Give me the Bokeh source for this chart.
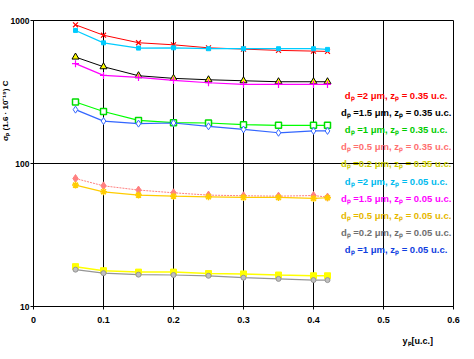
from bokeh.plotting import figure
from bokeh.models import Label, FixedTicker, Title
from bokeh.embed import file_html
from bokeh.resources import INLINE

# ---- data ----
y_p = [0.06, 0.1, 0.15, 0.2, 0.25, 0.3, 0.35, 0.4, 0.42]

s_2_035 = [933, 789, 699, 676, 644, 631, 618, 611, 608]
s_15_035 = [555, 475, 411, 394, 385, 379, 373, 373, 373]
s_1_035 = [269, 231, 200, 193, 192, 187, 185, 185, 185]
s_05_035 = [78.5, 69.8, 65.2, 62.4, 60.1, 59.5, 59.1, 59.7, 58.2]
s_02_035 = [19.0, 17.8, 17.4, 17.4, 17.0, 16.9, 16.6, 16.4, 16.4]
s_2_005 = [852, 698, 641, 644, 635, 635, 635, 635, 628]
s_15_005 = [499, 413, 400, 381, 367, 357, 357, 357, 357]
s_05_005 = [70.6, 63.4, 60.1, 59.1, 58.5, 57.9, 57.9, 57.0, 57.6]
s_02_005 = [18.1, 17.1, 16.7, 16.6, 16.4, 15.9, 15.6, 15.3, 15.3]
s_1_005 = [238, 198, 190, 192, 182, 173, 164, 169, 169]

legend_labels = [
    "dₚ =2 μm, zₚ = 0.35 u.c.",
    "dₚ =1.5 μm, zₚ = 0.35 u.c.",
    "dₚ =1 μm, zₚ = 0.35 u.c.",
    "dₚ =0.5 μm, zₚ = 0.35 u.c.",
    "dₚ =0.2 μm, zₚ = 0.35 u.c.",
    "dₚ =2 μm, zₚ = 0.05 u.c.",
    "dₚ =1.5 μm, zₚ = 0.05 u.c.",
    "dₚ =0.5 μm, zₚ = 0.05 u.c.",
    "dₚ =0.2 μm, zₚ = 0.05 u.c.",
    "dₚ =1 μm, zₚ = 0.05 u.c.",
]
legend_colors = ["#FF0000", "#000000", "#00CC00", "#FF7070", "#CCCC00",
                 "#00BBEE", "#FF00FF", "#E6B800", "#707070", "#1040E0"]

x_ticks = [0, 0.1, 0.2, 0.3, 0.4, 0.5, 0.6]
y_ticks = [10, 100, 1000]
x_title = "yₚ[u.c.]"
y_title = "σₚ (1.6 · 10⁻¹⁹) C"

FONT = "Liberation Sans"

p = figure(frame_width=420, frame_height=286, y_axis_type="log",
           x_range=(0, 0.6), y_range=(10, 1000),
           output_backend="svg", toolbar_location=None,
           min_border_left=25, min_border_right=13,
           min_border_top=20, min_border_bottom=45)
p.outline_line_color = "black"
p.background_fill_color = "white"
p.border_fill_color = "white"

p.xaxis.ticker = FixedTicker(ticks=x_ticks)
p.yaxis.ticker = FixedTicker(ticks=y_ticks)
p.xaxis.minor_tick_line_color = None
p.yaxis.minor_tick_line_color = None
for ax in (p.xaxis, p.yaxis):
    ax.axis_line_color = "black"
    ax.major_tick_line_color = "black"
    ax.major_tick_in = 0
    ax.major_tick_out = 3
    ax.major_label_text_font = FONT
    ax.major_label_text_font_style = "bold"
    ax.major_label_text_font_size = "9px"
    ax.major_label_text_color = "black"
p.yaxis.major_label_text_font_size = "8.5px"
p.yaxis.major_label_standoff = 1
p.xaxis.major_label_standoff = 7
p.yaxis.major_label_overrides = {10: "10", 100: "100", 1000: "1000"}

p.xgrid.grid_line_color = "black"
p.ygrid.grid_line_color = "black"
p.xgrid.grid_line_alpha = 1
p.ygrid.grid_line_alpha = 1
p.xgrid.ticker = FixedTicker(ticks=x_ticks)
p.ygrid.ticker = FixedTicker(ticks=y_ticks)

# series
p.line(y_p, s_2_035, color="#FF0000", line_width=1)
p.scatter(y_p, s_2_035, marker="x", size=7, line_color="#FF0000", line_width=1.2)

p.line(y_p, s_2_005, color="#00CCFF", line_width=1.2)
p.scatter(y_p, s_2_005, marker="square", size=4, fill_color="#00CCFF", line_color="#00CCFF")

p.line(y_p, s_15_035, color="#000000", line_width=1)
p.scatter(y_p, s_15_035, marker="triangle", size=7, fill_color="#FFFF00", line_color="#000000", line_width=1)

p.line(y_p, s_15_005, color="#FF00FF", line_width=1.2)
p.scatter(y_p, s_15_005, marker="cross", size=7, line_color="#FF00FF", line_width=1.2)

p.line(y_p, s_1_035, color="#00FF00", line_width=1.2)
p.scatter(y_p, s_1_035, marker="square", size=6, fill_color="white", line_color="#00DD00", line_width=1.5)

p.line(y_p, s_1_005, color="#3366FF", line_width=1.2)
p.scatter(y_p, s_1_005, marker="diamond", size=7, fill_color="white", line_color="#3366FF", line_width=1)

p.line(y_p, s_05_035, color="#FF8080", line_width=1, line_dash="2 1")
p.scatter(y_p, s_05_035, marker="diamond", size=8, fill_color="#FF8080", line_color="#FF8080")

p.line(y_p, s_05_005, color="#FFCC00", line_width=1.2)
p.scatter(y_p, s_05_005, marker="asterisk", size=7, line_color="#FFCC00", line_width=1.5)

p.line(y_p, s_02_035, color="#FFFF00", line_width=1.5)
p.scatter(y_p, s_02_035, marker="square", size=6, fill_color="#FFFF00", line_color="#FFFF00")

p.line(y_p, s_02_005, color="#969696", line_width=1.2)
p.scatter(y_p, s_02_005, marker="circle", size=5, fill_color="#C0C0C0", line_color="#969696")

# legend as coloured text, placed in data units inside the frame
leg_x = 0.518
for i, (lab, col) in enumerate(zip(legend_labels, legend_colors)):
    leg_y = 10 ** (3 - (75 + 17.2 * i) / 143.3)
    p.add_layout(Label(x=leg_x, y=leg_y, text=lab, text_color=col, text_font=FONT,
                       text_font_style="bold", text_font_size="9.5px",
                       text_align="center", text_baseline="middle"))

# axis titles as side-panel titles
p.add_layout(Title(text=x_title, align="left", offset=369, standoff=16,
                   text_font=FONT, text_font_style="bold", text_font_size="9px",
                   text_color="black"), "below")
p.add_layout(Title(text=y_title, align="right", offset=60, standoff=-4,
                   text_font=FONT, text_font_style="bold", text_font_size="8px",
                   text_color="black"), "left")

open("out.html", "w").write(file_html(p, INLINE))
